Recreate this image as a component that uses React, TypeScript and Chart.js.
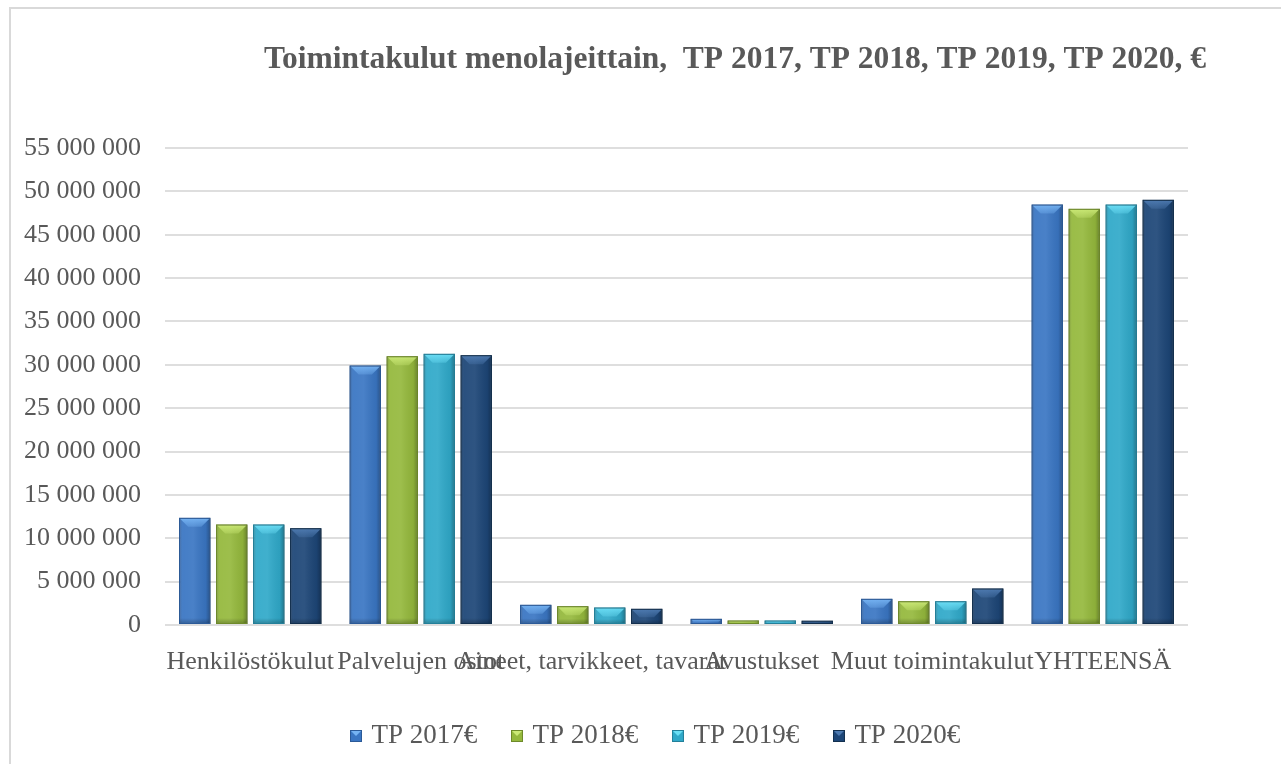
import React, { useEffect, useRef } from 'react';
import { Chart, registerables } from 'chart.js';

Chart.register(...registerables);

// ---- data ----
const categories = [
  'Henkilöstökulut',
  'Palvelujen ostot',
  'Aineet, tarvikkeet, tavarat',
  'Avustukset',
  'Muut toimintakulut',
  'YHTEENSÄ',
];
const seriesLabels = ['TP 2017€', 'TP 2018€', 'TP 2019€', 'TP 2020€'];
const tp2017 = [12360000, 29920000, 2330000, 710000, 3020000, 48480000];
const tp2018 = [11590000, 30990000, 2170000, 520000, 2740000, 47990000];
const tp2019 = [11590000, 31270000, 2020000, 520000, 2740000, 48480000];
const tp2020 = [11160000, 31110000, 1870000, 500000, 4210000, 49030000];
const yMin = 0;
const yMax = 55000000;
const yStep = 5000000;
const titleText = 'Toimintakulut menolajeittain,  TP 2017, TP 2018, TP 2019, TP 2020, €';

// ---- styles ----
const FONT = '"Liberation Serif", "Times New Roman", serif';
const TEXT = '#595959';
const baseColors = ['#3a76c3', '#95b93d', '#30a9c9', '#1d4677'];
const borderColors = ['#2b5a98', '#6e8a2a', '#23809a', '#13304f'];
const lightRGB = [
  [120, 182, 245],
  [205, 235, 120],
  [110, 225, 248],
  [80, 125, 180],
];
const TITLE_CX = 735;
const LEGEND_X = 354;
const LEGEND_CY = 736;
const LEGEND_FONT = 27;

function fmt(v: number): string {
  return String(Math.round(v)).replace(/\B(?=(\d{3})+(?!\d))/g, ' ');
}

function makeMarker(i: number): HTMLCanvasElement {
  const c = document.createElement('canvas');
  c.width = 12;
  c.height = 12;
  const x = c.getContext('2d')!;
  x.fillStyle = baseColors[i];
  x.fillRect(0, 0, 12, 12);
  const [r, g, b] = lightRGB[i];
  x.fillStyle = `rgba(${r},${g},${b},0.95)`;
  x.beginPath();
  x.moveTo(1, 1);
  x.lineTo(11, 1);
  x.lineTo(6, 6);
  x.closePath();
  x.fill();
  x.strokeStyle = borderColors[i];
  x.lineWidth = 1;
  x.strokeRect(0.5, 0.5, 11, 11);
  return c;
}

const layoutPlugin = {
  id: 'customLayout',
  afterLayout(chart: any) {
    const t = chart.titleBlock;
    if (t) {
      const s = TITLE_CX - (t.left + t.right) / 2;
      t.left += s;
      t.right += s;
    }
    const lg = chart.legend;
    if (lg && lg.lineWidths) {
      const p = lg.options.labels.padding;
      const cur = (lg.left + p + lg.right - lg.lineWidths[0]) / 2;
      const sx = LEGEND_X - cur;
      lg.left += sx;
      lg.right += sx;
      lg.width = lg.right - lg.left;
      const top = LEGEND_CY - LEGEND_FONT / 2 - p;
      lg.top = top;
      lg.bottom = LEGEND_CY + 28;
      lg.height = lg.bottom - lg.top;
    }
  },
};

const bevelPlugin = {
  id: 'bevel',
  beforeDatasetsDraw(chart: any) {
    const ctx = chart.ctx;
    ctx.save();
    ctx.shadowColor = 'rgba(0,0,0,0.28)';
    ctx.shadowBlur = 4;
    ctx.shadowOffsetX = 2;
    ctx.shadowOffsetY = 1;
  },
  afterDatasetsDraw(chart: any) {
    const ctx = chart.ctx;
    ctx.restore();
    ctx.save();
    chart.data.datasets.forEach((_ds: any, di: number) => {
      const meta = chart.getDatasetMeta(di);
      const [lr, lgc, lb] = lightRGB[di];
      meta.data.forEach((el: any) => {
        const { x, y, base, width } = el.getProps(['x', 'y', 'base', 'width'], true);
        const l = x - width / 2;
        const r = x + width / 2;
        const t = Math.min(y, base);
        const b = Math.max(y, base);
        const h = b - t;
        if (h <= 0) return;
        const g = ctx.createLinearGradient(l, 0, r, 0);
        g.addColorStop(0, 'rgba(0,0,0,0.22)');
        g.addColorStop(0.12, 'rgba(255,255,255,0.06)');
        g.addColorStop(0.45, 'rgba(255,255,255,0.08)');
        g.addColorStop(0.85, 'rgba(0,0,0,0.06)');
        g.addColorStop(1, 'rgba(0,0,0,0.3)');
        ctx.fillStyle = g;
        ctx.fillRect(l, t, width, h);
        const d = Math.min(9, h * 0.55);
        const inset = Math.min(width * 0.3, d);
        const vg = ctx.createLinearGradient(0, t, 0, t + d);
        vg.addColorStop(0, `rgba(${lr},${lgc},${lb},0.95)`);
        vg.addColorStop(1, `rgba(${lr},${lgc},${lb},0.3)`);
        ctx.beginPath();
        ctx.moveTo(l + 1, t + 1);
        ctx.lineTo(r - 1, t + 1);
        ctx.lineTo(r - inset, t + d);
        ctx.lineTo(l + inset, t + d);
        ctx.closePath();
        ctx.fillStyle = vg;
        ctx.fill();
        const bd = Math.min(6, h * 0.3);
        const bg = ctx.createLinearGradient(0, b - bd, 0, b);
        bg.addColorStop(0, 'rgba(0,0,0,0)');
        bg.addColorStop(1, 'rgba(0,0,0,0.25)');
        ctx.fillStyle = bg;
        ctx.fillRect(l, b - bd, width, bd);
        ctx.strokeStyle = borderColors[di];
        ctx.lineWidth = 1;
        ctx.strokeRect(l + 0.5, t + 0.5, width - 1, h - 1);
      });
    });
    ctx.restore();
  },
};

export default function App() {
  const ref = useRef<HTMLCanvasElement | null>(null);

  useEffect(() => {
    if (!ref.current) return;
    const markers = [0, 1, 2, 3].map((i) => makeMarker(i));
    const series = [tp2017, tp2018, tp2019, tp2020];
    const chart = new Chart(ref.current, {
      type: 'bar',
      data: {
        labels: categories,
        datasets: series.map((data, i) => ({
          label: seriesLabels[i],
          data,
          backgroundColor: baseColors[i],
          borderColor: borderColors[i],
          borderWidth: 1,
          categoryPercentage: 0.868,
          barPercentage: 0.846,
        })),
      },
      options: {
        responsive: false,
        animation: false,
        devicePixelRatio: 1,
        layout: { padding: { left: 0, right: 93, top: 0, bottom: 0 } },
        scales: {
          x: {
            grid: { display: false },
            border: { display: false },
            ticks: {
              autoSkip: false,
              maxRotation: 0,
              minRotation: 0,
              padding: 14,
              color: TEXT,
              font: { family: FONT, size: 26 },
            },
            afterFit: (s: any) => {
              s.height = 89;
            },
          },
          y: {
            min: yMin,
            max: yMax,
            grid: { color: '#dedede', lineWidth: 2, drawTicks: false },
            border: { display: false },
            ticks: {
              stepSize: yStep,
              padding: 24,
              color: TEXT,
              font: { family: FONT, size: 26 },
              callback: (v: any) => fmt(Number(v)),
            },
            afterFit: (s: any) => {
              s.width = 165;
            },
          },
        },
        plugins: {
          tooltip: { enabled: false },
          title: {
            display: true,
            text: titleText,
            color: TEXT,
            font: { family: FONT, size: 31.5, weight: 'bold' },
            padding: { top: 40.5, bottom: 69.7 },
          },
          legend: {
            display: true,
            position: 'bottom',
            maxHeight: 50,
            labels: {
              usePointStyle: true,
              boxWidth: 4,
              boxHeight: 12,
              padding: 37.7,
              color: TEXT,
              font: { family: FONT, size: LEGEND_FONT },
              generateLabels: (c: any) =>
                (Chart.defaults.plugins.legend.labels as any)
                  .generateLabels(c)
                  .map((it: any, i: number) => ({ ...it, pointStyle: markers[i], fontColor: TEXT })),
            },
          },
        },
      } as any,
      plugins: [layoutPlugin, bevelPlugin],
    });
    return () => chart.destroy();
  }, []);

  return (
    <div
      style={{
        position: 'absolute',
        left: 0,
        top: 0,
        width: 1281,
        height: 764,
        overflow: 'hidden',
        background: '#ffffff',
      }}
    >
      <div
        style={{
          position: 'absolute',
          left: 9,
          top: 7,
          width: 1400,
          height: 900,
          borderTop: '2px solid #d9d9d9',
          borderLeft: '2px solid #d9d9d9',
        }}
      />
      <canvas
        ref={ref}
        width={1281}
        height={764}
        style={{ position: 'absolute', left: 0, top: 0, width: 1281, height: 764 }}
      />
    </div>
  );
}
